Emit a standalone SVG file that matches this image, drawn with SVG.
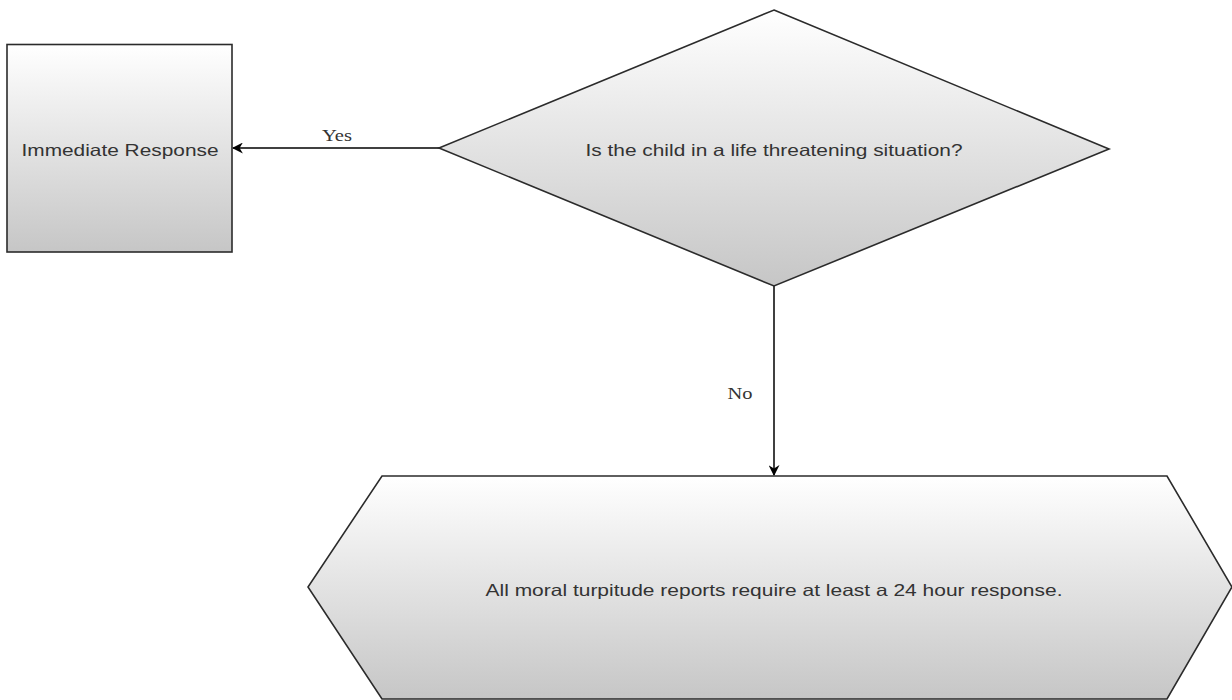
<svg xmlns="http://www.w3.org/2000/svg" width="1232" height="700" viewBox="0 0 1232 700">
  <style>
    .shape { stroke: #2b2b2b; stroke-width: 1.6; fill: url(#shade); }
    .label { font-family: "Liberation Sans", Arial, sans-serif; font-size: 16.5px; fill: #333333; text-anchor: middle; dominant-baseline: central; }
    .edge { stroke: #000000; stroke-width: 1.5; fill: none; marker-end: url(#arrow); }
    .edge-label { font-family: "Liberation Serif", "Times New Roman", serif; font-size: 17px; fill: #333333; text-anchor: middle; dominant-baseline: central; }
  </style>
  <defs>
    <linearGradient id="shade" x1="0" y1="0" x2="0" y2="1">
      <stop offset="0" stop-color="#ffffff"/>
      <stop offset="1" stop-color="#c6c6c6"/>
    </linearGradient>
    <marker id="arrow" viewBox="0 0 10 10" refX="9" refY="5" markerWidth="11" markerHeight="11" markerUnits="userSpaceOnUse" orient="auto">
      <path d="M0,0 L10,5 L0,10 L3,5 Z" fill="#000000"/>
    </marker>
  </defs>
  <rect width="1232" height="700" fill="#ffffff"/>

  <!-- connectors -->
  <g id="connectors">
    <g id="edge-yes">
      <line class="edge" x1="439" y1="148" x2="233" y2="148"/>
      <text class="edge-label" x="337" y="135" textLength="30" lengthAdjust="spacingAndGlyphs">Yes</text>
    </g>
    <g id="edge-no">
      <line class="edge" x1="774" y1="286" x2="774" y2="475"/>
      <text class="edge-label" x="740" y="393" textLength="25" lengthAdjust="spacingAndGlyphs">No</text>
    </g>
  </g>

  <!-- action box -->
  <g id="immediate-response">
    <rect class="shape" x="7" y="44.5" width="225" height="207.5"/>
    <text class="label" x="120" y="150" textLength="197" lengthAdjust="spacingAndGlyphs">Immediate Response</text>
  </g>

  <!-- decision -->
  <g id="life-threatening">
    <polygon class="shape" points="774,10 1109,149 774,286 439,148"/>
    <text class="label" x="774" y="150" textLength="377" lengthAdjust="spacingAndGlyphs">Is the child in a life threatening situation?</text>
  </g>

  <!-- 24 hour response -->
  <g id="standard-response">
    <polygon class="shape" points="382,476 1167,476 1232,587 1167,699 382,699 308,587"/>
    <text class="label" x="774" y="590" textLength="577" lengthAdjust="spacingAndGlyphs">All moral turpitude reports require at least a 24 hour response.</text>
  </g>
</svg>
